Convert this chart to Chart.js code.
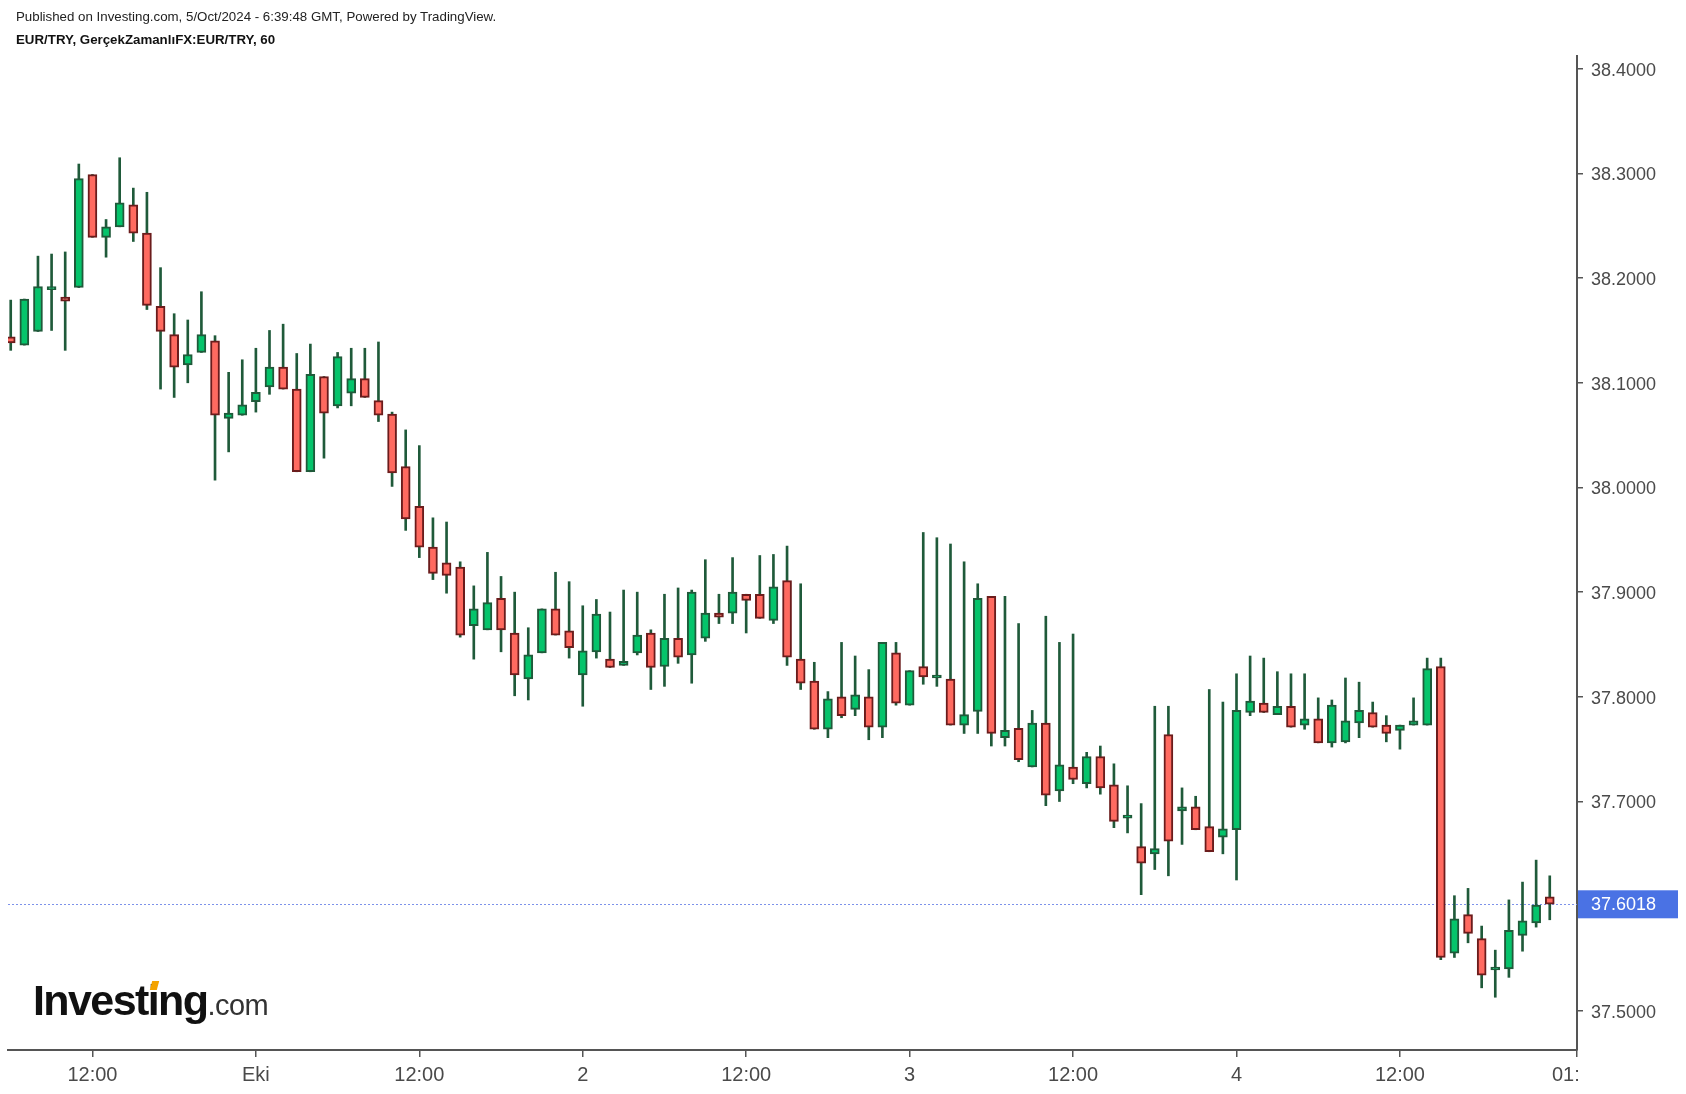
<!DOCTYPE html>
<html>
<head>
<meta charset="utf-8">
<script src="https://cdn.jsdelivr.net/npm/chart.js@4.4.1/dist/chart.umd.min.js"></script>
<style>
  html, body { margin: 0; padding: 0; background: #fff; }
  #wrap { position: relative; width: 1686px; height: 1094px; }
  #chart { position: absolute; left: 0; top: 0; }
  .hdr { position: absolute; left: 16px; font-family: "Liberation Sans", Arial, sans-serif; font-size: 13.3px; color: #222; white-space: nowrap; }
  #pub { top: 9px; }
  #sym { top: 32px; font-weight: bold; color: #111; }
  #logo { position: absolute; left: 33px; top: 976px; font-family: "Liberation Sans", Arial, sans-serif; white-space: nowrap; }
  #logo .big { font-size: 43px; font-weight: bold; letter-spacing: -1.6px; color: #111; }
  #logo .com { font-size: 29px; color: #333; letter-spacing: -0.5px; }
  #logo .dot { position: relative; }
  #logo .dot::after { content: ""; position: absolute; left: 3px; top: 5px; width: 7px; height: 9px; background: #f4a300; transform: skewX(-15deg); }
</style>
</head>
<body>
<div id="wrap">
  <canvas id="chart" width="1686" height="1094"></canvas>
  <div class="hdr" id="pub">Published on Investing.com, 5/Oct/2024 - 6:39:48 GMT, Powered by TradingView.</div>
  <div class="hdr" id="sym">EUR/TRY, GerçekZamanlıFX:EUR/TRY, 60</div>
  <div id="logo"><span class="big">Invest<span class="dot">i</span>ng</span><span class="com">.com</span></div>
</div>
<script>
// saatlik mumlar: 30 Eyl 06:00 -> 4 Eki 23:00
const opens  = [38.144,38.136,38.149,38.189,38.182,38.191,38.299,38.239,38.249,38.270,
                38.243,38.173,38.146,38.117,38.129,38.140,38.066,38.069,38.082,38.096,
                38.115,38.094,38.015,38.106,38.078,38.090,38.104,38.083,38.070,38.020,
                37.982,37.943,37.928,37.924,37.868,37.864,37.894,37.861,37.817,37.842,
                37.884,37.863,37.821,37.843,37.836,37.830,37.842,37.861,37.829,37.856,
                37.840,37.856,37.880,37.880,37.898,37.898,37.873,37.911,37.836,37.815,
                37.769,37.800,37.788,37.800,37.771,37.842,37.792,37.829,37.818,37.817,
                37.773,37.786,37.896,37.761,37.770,37.733,37.775,37.710,37.733,37.717,
                37.743,37.716,37.684,37.657,37.650,37.764,37.691,37.695,37.676,37.666,
                37.673,37.785,37.794,37.783,37.791,37.773,37.779,37.756,37.757,37.775,
                37.785,37.773,37.768,37.773,37.773,37.829,37.555,37.592,37.569,37.539,
                37.540,37.572,37.584,37.609];
const highs  = [38.179,38.180,38.221,38.223,38.225,38.309,38.299,38.256,38.315,38.286,
                38.282,38.210,38.166,38.160,38.187,38.145,38.110,38.122,38.133,38.150,
                38.156,38.128,38.137,38.106,38.129,38.133,38.133,38.139,38.072,38.055,
                38.040,37.971,37.967,37.929,37.906,37.938,37.915,37.900,37.866,37.884,
                37.919,37.910,37.887,37.893,37.881,37.902,37.900,37.864,37.898,37.904,
                37.902,37.931,37.898,37.933,37.898,37.935,37.936,37.944,37.908,37.833,
                37.805,37.852,37.839,37.826,37.852,37.852,37.825,37.957,37.952,37.946,
                37.929,37.908,37.896,37.896,37.870,37.787,37.877,37.852,37.860,37.747,
                37.753,37.736,37.715,37.698,37.791,37.791,37.713,37.705,37.807,37.795,
                37.822,37.839,37.837,37.824,37.822,37.822,37.799,37.797,37.818,37.814,
                37.795,37.782,37.773,37.799,37.837,37.837,37.610,37.617,37.581,37.558,
                37.606,37.623,37.644,37.629];
const lows   = [38.131,38.136,38.149,38.150,38.131,38.191,38.239,38.220,38.249,38.235,
                38.170,38.094,38.086,38.100,38.129,38.007,38.034,38.069,38.072,38.089,
                38.094,38.015,38.015,38.028,38.076,38.078,38.086,38.063,38.001,37.959,
                37.933,37.912,37.899,37.857,37.836,37.864,37.843,37.801,37.797,37.842,
                37.859,37.837,37.791,37.837,37.828,37.830,37.840,37.807,37.810,37.832,
                37.813,37.853,37.870,37.870,37.861,37.875,37.870,37.830,37.807,37.769,
                37.761,37.780,37.782,37.759,37.761,37.792,37.792,37.812,37.810,37.773,
                37.765,37.765,37.753,37.753,37.738,37.733,37.696,37.700,37.717,37.713,
                37.707,37.675,37.670,37.611,37.635,37.629,37.659,37.673,37.652,37.650,
                37.625,37.782,37.785,37.783,37.771,37.769,37.756,37.752,37.756,37.761,
                37.771,37.757,37.750,37.773,37.773,37.549,37.551,37.565,37.522,37.513,
                37.532,37.557,37.580,37.587];
const closes = [38.138,38.180,38.192,38.189,38.178,38.295,38.239,38.249,38.272,38.243,
                38.174,38.149,38.115,38.127,38.146,38.069,38.071,38.079,38.091,38.115,
                38.094,38.015,38.108,38.071,38.125,38.104,38.086,38.069,38.014,37.970,
                37.943,37.918,37.916,37.859,37.884,37.890,37.864,37.821,37.840,37.884,
                37.859,37.847,37.844,37.879,37.828,37.834,37.859,37.828,37.856,37.838,
                37.900,37.880,37.876,37.900,37.892,37.875,37.905,37.838,37.813,37.769,
                37.798,37.782,37.802,37.771,37.852,37.794,37.825,37.819,37.818,37.773,
                37.783,37.894,37.765,37.768,37.740,37.775,37.706,37.735,37.721,37.743,
                37.713,37.681,37.687,37.641,37.655,37.662,37.695,37.673,37.652,37.674,
                37.787,37.796,37.785,37.791,37.771,37.779,37.756,37.792,37.777,37.787,
                37.771,37.765,37.773,37.777,37.827,37.551,37.588,37.574,37.534,37.539,
                37.577,37.586,37.601,37.6018];

const lastPrice = 37.6018;

// eksen etiketleri (x = saat indeksi)
const xTickIdx    = [6, 18, 30, 42, 54, 66, 78, 90, 102, 115];
const xTickLabels = ['12:00', 'Eki', '12:00', '2', '12:00', '3', '12:00', '4', '12:00', '01:00'];
const yTicks      = [37.5, 37.6, 37.7, 37.8, 37.9, 38.0, 38.1, 38.2, 38.3, 38.4];

const GREEN = '#05c46b', RED = '#ff6a60';
const GREEN_EDGE = '#1f5a3a', RED_EDGE = '#6b1c1c';
const FONT = '"Liberation Sans", Arial, sans-serif';

const isUp = closes.map((c, i) => c >= opens[i]);

// son fiyat çizgisi + etiket
const lastPricePlugin = {
    id: 'lastPrice',
    beforeDatasetsDraw(chart) {
        const { ctx, chartArea } = chart;
        const y = Math.round(chart.scales.y.getPixelForValue(lastPrice)) + 0.5;
        ctx.save();
        ctx.strokeStyle = '#7d92ea';
        ctx.lineWidth = 1;
        ctx.setLineDash([2, 2]);
        ctx.beginPath();
        ctx.moveTo(chartArea.left, y);
        ctx.lineTo(chartArea.right, y);
        ctx.stroke();
        ctx.restore();
    },
    afterDraw(chart) {
        const { ctx, chartArea } = chart;
        // sağ alt köşede kesilen etiket
        ctx.save();
        ctx.fillStyle = '#fff';
        ctx.fillRect(chartArea.right + 1.5, chartArea.bottom + 1.5, 200, 100);
        const y = chart.scales.y.getPixelForValue(lastPrice);
        ctx.fillStyle = '#4a72e4';
        ctx.fillRect(chartArea.right + 1, y - 14, 100, 28);
        ctx.fillStyle = '#fff';
        ctx.font = '18px ' + FONT;
        ctx.textBaseline = 'middle';
        ctx.fillText(lastPrice.toFixed(4), chartArea.right + 14, y + 1);
        ctx.restore();
    }
};

new Chart(document.getElementById('chart'), {
    type: 'bar',
    data: {
        datasets: [{
            label: 'body',
            data: opens.map((o, i) => ({ x: i, y: [o, closes[i]] })),
            backgroundColor: isUp.map(u => u ? GREEN : RED),
            borderColor: isUp.map(u => u ? GREEN_EDGE : RED_EDGE),
            borderWidth: 2,
            borderSkipped: false,
            barThickness: 9,
            minBarLength: 3,
            grouped: false,
            order: 1
        }, {
            label: 'wick',
            data: lows.map((l, i) => ({ x: i, y: [l, highs[i]] })),
            backgroundColor: GREEN_EDGE,
            borderWidth: 0,
            barThickness: 2,
            grouped: false,
            order: 2
        }]
    },
    options: {
        responsive: false,
        animation: false,
        layout: { padding: { left: 8, top: 56, right: 0, bottom: 0 } },
        plugins: {
            legend: { display: false },
            tooltip: { enabled: false }
        },
        scales: {
            x: {
                type: 'linear',
                min: -0.2,
                max: 115,
                offset: false,
                afterBuildTicks: s => { s.ticks = xTickIdx.map(v => ({ value: v })); },
                afterFit: s => { s.height = 44; },
                ticks: {
                    autoSkip: false,
                    maxRotation: 0,
                    padding: 6,
                    color: '#4a4a4a',
                    font: { size: 20, family: FONT },
                    callback: (v, i) => xTickLabels[i]
                },
                grid: { offset: false, drawOnChartArea: false, drawTicks: true, tickLength: 7, color: '#555', lineWidth: 1.5 },
                border: { color: '#555', width: 2 }
            },
            y: {
                type: 'linear',
                position: 'right',
                min: 37.4626,
                max: 38.4122,
                afterBuildTicks: s => { s.ticks = yTicks.map(v => ({ value: v })); },
                afterFit: s => { s.width = 109; },
                ticks: {
                    padding: 8,
                    labelOffset: 2,
                    color: '#4a4a4a',
                    font: { size: 18, family: FONT },
                    callback: v => v.toFixed(4)
                },
                grid: { drawOnChartArea: false, drawTicks: true, tickLength: 6, color: '#555', lineWidth: 1.5 },
                border: { color: '#555', width: 2 }
            }
        }
    },
    plugins: [lastPricePlugin]
});
</script>
</body>
</html>
